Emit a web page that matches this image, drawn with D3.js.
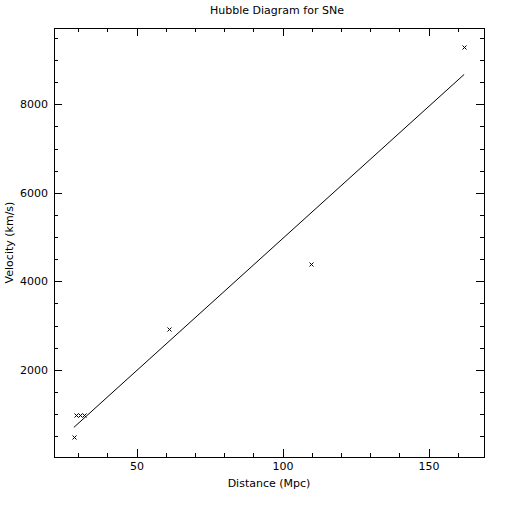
<!DOCTYPE html>
<html>
<head>
<meta charset="utf-8">
<script src="https://cdn.jsdelivr.net/npm/d3@7"></script>
<style>
  html, body { margin: 0; padding: 0; background: #fff; }
  svg { display: block; }
  text { font-family: "DejaVu Sans", sans-serif; fill: #000; }
</style>
</head>
<body>
<div id="chart"></div>
<script>
// ---- data ----
const distance = [28.5, 29.4, 30.6, 31.9, 61.0, 109.6, 162.2];   // Mpc
const velocity = [473, 979, 979, 979, 2931, 4397, 9290];          // km/s
const xDomain = [21.7, 169.0];
const yDomain = [30, 9725];
const xMajorTicks = [50, 100, 150];
const xMinorTicks = [30, 40, 60, 70, 80, 90, 110, 120, 130, 140, 160];
const yMajorTicks = [2000, 4000, 6000, 8000];
const yMinorTicks = [500, 1000, 1500, 2500, 3000, 3500, 4500, 5000, 5500, 6500, 7000, 7500, 8500, 9000, 9500];
const title = "Hubble Diagram for SNe";
const xLabel = "Distance (Mpc)";
const yLabel = "Velocity (km/s)";

const W = 512, H = 512;
const pL = 54, pR = 484, pT = 28, pB = 457;

const svg = d3.select("#chart").append("svg").attr("width", W).attr("height", H);

const x = d3.scaleLinear().domain(xDomain).range([pL, pR]);
const y = d3.scaleLinear().domain(yDomain).range([pB, pT]);

const majorLen = 8, minorLen = 4;

function styleAxis(g) {
  g.select(".domain").remove();
  g.selectAll("line").attr("stroke", "#000").attr("shape-rendering", "crispEdges");
  g.selectAll("text").style("font-family", '"DejaVu Sans", sans-serif').style("font-size", "11px").attr("fill", "#000");
}

// bottom axis (labels) and top mirrored ticks
svg.append("g").attr("transform", `translate(0,${pB})`)
  .call(d3.axisBottom(x).tickValues(xMajorTicks).tickSizeInner(-majorLen).tickSizeOuter(0).tickPadding(5).tickFormat(d3.format("d")))
  .call(styleAxis);
svg.append("g").attr("transform", `translate(0,${pB})`)
  .call(d3.axisBottom(x).tickValues(xMinorTicks).tickSizeInner(-minorLen).tickSizeOuter(0).tickFormat(""))
  .call(styleAxis);
svg.append("g").attr("transform", `translate(0,${pT})`)
  .call(d3.axisTop(x).tickValues(xMajorTicks).tickSizeInner(-majorLen).tickSizeOuter(0).tickFormat(""))
  .call(styleAxis);
svg.append("g").attr("transform", `translate(0,${pT})`)
  .call(d3.axisTop(x).tickValues(xMinorTicks).tickSizeInner(-minorLen).tickSizeOuter(0).tickFormat(""))
  .call(styleAxis);

// left axis (labels) and right mirrored ticks
svg.append("g").attr("transform", `translate(${pL},0)`)
  .call(d3.axisLeft(y).tickValues(yMajorTicks).tickSizeInner(-majorLen).tickSizeOuter(0).tickPadding(6).tickFormat(d3.format("d")))
  .call(styleAxis);
svg.append("g").attr("transform", `translate(${pL},0)`)
  .call(d3.axisLeft(y).tickValues(yMinorTicks).tickSizeInner(-minorLen).tickSizeOuter(0).tickFormat(""))
  .call(styleAxis);
svg.append("g").attr("transform", `translate(${pR},0)`)
  .call(d3.axisRight(y).tickValues(yMajorTicks).tickSizeInner(-majorLen).tickSizeOuter(0).tickFormat(""))
  .call(styleAxis);
svg.append("g").attr("transform", `translate(${pR},0)`)
  .call(d3.axisRight(y).tickValues(yMinorTicks).tickSizeInner(-minorLen).tickSizeOuter(0).tickFormat(""))
  .call(styleAxis);

// frame
svg.append("rect")
  .attr("x", pL).attr("y", pT)
  .attr("width", pR - pL).attr("height", pB - pT)
  .attr("fill", "none").attr("stroke", "#000").attr("shape-rendering", "crispEdges");

// least-squares fit line computed from the data
const n = distance.length;
const mx = d3.mean(distance), my = d3.mean(velocity);
let sxy = 0, sxx = 0;
for (let i = 0; i < n; i++) {
  sxy += (distance[i] - mx) * (velocity[i] - my);
  sxx += (distance[i] - mx) ** 2;
}
const slope = sxy / sxx, intercept = my - slope * mx;
const fitX = d3.extent(distance);
const fitPts = fitX.map(d => [d, intercept + slope * d]);
svg.append("path")
  .datum(fitPts)
  .attr("d", d3.line().x(d => x(d[0])).y(d => y(d[1])))
  .attr("fill", "none").attr("stroke", "#000").attr("stroke-width", 1);

// x markers
const s = 2;
const pts = distance.map((d, i) => ({ d, v: velocity[i] }));
const mk = svg.append("g").selectAll("g").data(pts).join("g")
  .attr("transform", p => `translate(${Math.round(x(p.d)) + 0.5},${Math.round(y(p.v)) + 0.5})`);
mk.append("path")
  .attr("d", `M${-s},${-s}L${s},${s}M${-s},${s}L${s},${-s}`)
  .attr("stroke", "#000").attr("stroke-width", 1).attr("fill", "none");

// titles
svg.append("text").attr("x", 277).attr("y", 14).attr("text-anchor", "middle")
  .style("font-size", "11px").text(title);
svg.append("text").attr("x", (pL + pR) / 2).attr("y", 487).attr("text-anchor", "middle")
  .style("font-size", "11px").text(xLabel);
svg.append("text").attr("transform", `translate(13,${(pT + pB) / 2}) rotate(-90)`)
  .attr("text-anchor", "middle").style("font-size", "11px").text(yLabel);
</script>
</body>
</html>
